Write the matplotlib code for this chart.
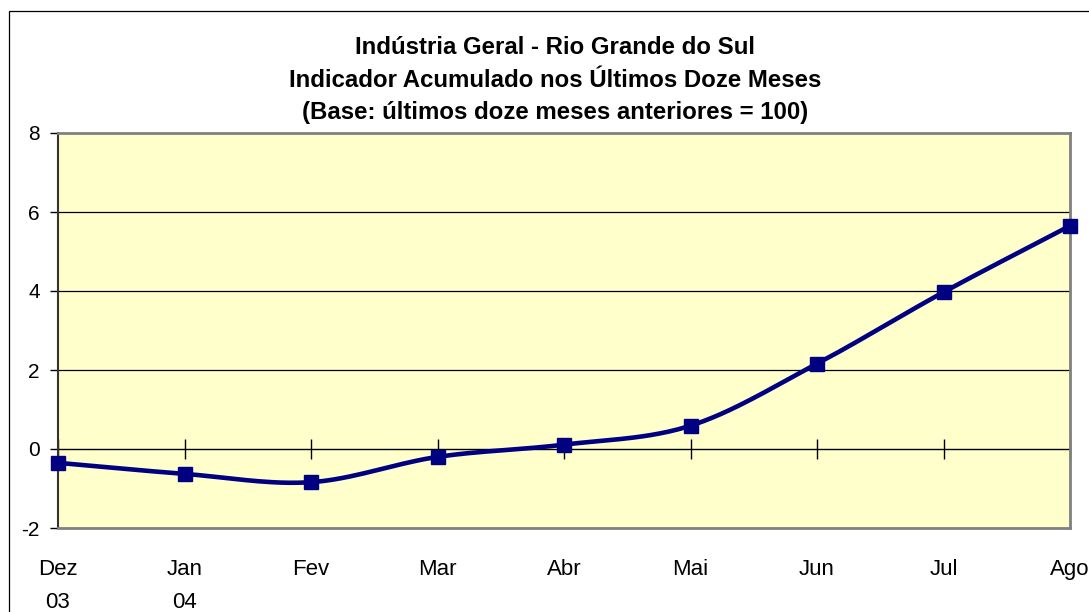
import numpy as np
import matplotlib
matplotlib.use("Agg")
import matplotlib.pyplot as plt
from matplotlib.patches import Rectangle

categories = ["Dez\n03", "Jan\n04", "Fev", "Mar", "Abr", "Mai", "Jun", "Jul", "Ago"]
values = [-0.35, -0.63, -0.84, -0.20, 0.11, 0.59, 2.16, 3.97, 5.65]
title_lines = ["Indústria Geral - Rio Grande do Sul",
               "Indicador Acumulado nos Últimos Doze Meses",
               "(Base: últimos doze meses anteriores = 100)"]

plt.rcParams['font.family'] = ['Liberation Sans', 'DejaVu Sans']
plt.rcParams['axes.unicode_minus'] = False

W, H = 1089, 612
fig = plt.figure(figsize=(W / 100, H / 100), dpi=100)
fig.patch.set_facecolor('white')

# outer chart frame
fig.patches.append(Rectangle((9 / W, -0.1), 1.2, (H - 11) / H + 0.1, transform=fig.transFigure,
                             fill=False, edgecolor='black', linewidth=0.9))

L, R, T, B = 58, 1070, 133, 528
ax = fig.add_axes([L / W, 1 - B / H, (R - L) / W, (B - T) / H])
ax.set_facecolor('#FFFFCC')

x = np.arange(len(values))
y = np.array(values, dtype=float)

# Catmull-Rom style smoothing (as in Excel's smoothed line)
xs, ys = [], []
px = np.concatenate([[2 * x[0] - x[1]], x, [2 * x[-1] - x[-2]]])
py = np.concatenate([[2 * y[0] - y[1]], y, [2 * y[-1] - y[-2]]])
for i in range(1, len(px) - 2):
    t = np.linspace(0, 1, 30)
    for arr, out in ((px, xs), (py, ys)):
        p0, p1, p2, p3 = arr[i - 1], arr[i], arr[i + 1], arr[i + 2]
        c1 = p1 + (p2 - p0) / 6
        c2 = p2 - (p3 - p1) / 6
        out.extend((1 - t) ** 3 * p1 + 3 * (1 - t) ** 2 * t * c1 + 3 * (1 - t) * t ** 2 * c2 + t ** 3 * p2)

ax.plot(xs, ys, color='#000080', linewidth=3.3, solid_capstyle='round', zorder=4, clip_on=False)
ax.plot(x, y, linestyle='none', marker='s', markersize=10, color='#000080', zorder=5, clip_on=False)

ax.set_xlim(0, len(values) - 1)
ax.set_ylim(-2, 8)
ax.set_yticks([-2, 0, 2, 4, 6, 8])
for v in [2, 4, 6]:
    ax.axhline(v, color='black', linewidth=0.9, zorder=1)

for s in ['top', 'right', 'bottom']:
    ax.spines[s].set_color('#808080')
    ax.spines[s].set_linewidth(2)
ax.spines['left'].set_color('#333333')
ax.spines['left'].set_linewidth(1.5)

ax.tick_params(axis='y', direction='out', length=6, width=1, colors='black', labelsize=15, pad=7)
ax.set_xticks(x)
ax.set_xticklabels(categories, fontsize=16, linespacing=1.75)
ax.tick_params(axis='x', length=0, pad=22)
for lab in ax.get_xticklabels():
    lab.set_verticalalignment('top')
    lab.set_horizontalalignment('center')

# category axis crossing at zero
sec = ax.secondary_xaxis(0.2)
sec.set_xticks(x)
sec.tick_params(axis='x', direction='inout', length=15, width=1, labelbottom=False, labeltop=False, colors='black')
sec.spines['bottom'].set_color('black')
sec.spines['bottom'].set_linewidth(1)
sec.set_xticklabels([])

ys_t = [54, 87, 119]
for txt, yy in zip(title_lines, ys_t):
    fig.text(555 / W, 1 - yy / H, txt, ha='center', va='baseline', fontsize=17.3, fontweight='bold')

fig.savefig('out.png', dpi=100)
